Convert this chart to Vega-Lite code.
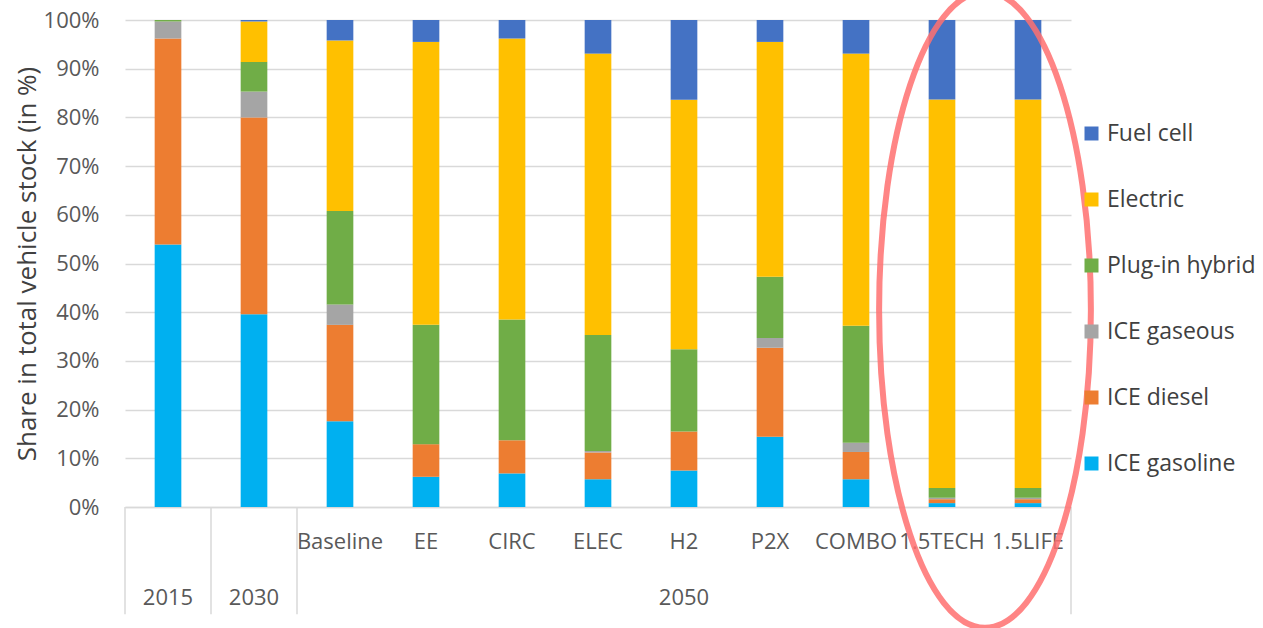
{
  "$schema": "https://vega.github.io/schema/vega-lite/v6.json",
  "width": 946,
  "height": 487,
  "autosize": {"type": "none"},
  "padding": {"left": 125, "top": 20, "right": 192, "bottom": 121},
  "background": "white",
  "config": {
    "view": {"stroke": null},
    "font": "Open Sans",
    "axis": {"labelFont": "Open Sans", "titleFont": "Open Sans", "labelColor": "#595959", "titleColor": "#404040"},
    "legend": {"labelFont": "Open Sans"}
  },
  "datasets": {
    "stock": [
      {"cat": "2015", "type": "ICE gasoline", "k": 1, "v": 53.9},
      {"cat": "2015", "type": "ICE diesel", "k": 2, "v": 42.3},
      {"cat": "2015", "type": "ICE gaseous", "k": 3, "v": 3.5},
      {"cat": "2015", "type": "Plug-in hybrid", "k": 4, "v": 0.3},
      {"cat": "2015", "type": "Electric", "k": 5, "v": 0},
      {"cat": "2015", "type": "Fuel cell", "k": 6, "v": 0},
      {"cat": "2030", "type": "ICE gasoline", "k": 1, "v": 39.6},
      {"cat": "2030", "type": "ICE diesel", "k": 2, "v": 40.4},
      {"cat": "2030", "type": "ICE gaseous", "k": 3, "v": 5.3},
      {"cat": "2030", "type": "Plug-in hybrid", "k": 4, "v": 6.1},
      {"cat": "2030", "type": "Electric", "k": 5, "v": 8.3},
      {"cat": "2030", "type": "Fuel cell", "k": 6, "v": 0.3},
      {"cat": "Baseline", "type": "ICE gasoline", "k": 1, "v": 17.6},
      {"cat": "Baseline", "type": "ICE diesel", "k": 2, "v": 19.8},
      {"cat": "Baseline", "type": "ICE gaseous", "k": 3, "v": 4.2},
      {"cat": "Baseline", "type": "Plug-in hybrid", "k": 4, "v": 19.2},
      {"cat": "Baseline", "type": "Electric", "k": 5, "v": 35.0},
      {"cat": "Baseline", "type": "Fuel cell", "k": 6, "v": 4.2},
      {"cat": "EE", "type": "ICE gasoline", "k": 1, "v": 6.2},
      {"cat": "EE", "type": "ICE diesel", "k": 2, "v": 6.7},
      {"cat": "EE", "type": "ICE gaseous", "k": 3, "v": 0},
      {"cat": "EE", "type": "Plug-in hybrid", "k": 4, "v": 24.5},
      {"cat": "EE", "type": "Electric", "k": 5, "v": 58.1},
      {"cat": "EE", "type": "Fuel cell", "k": 6, "v": 4.5},
      {"cat": "CIRC", "type": "ICE gasoline", "k": 1, "v": 6.9},
      {"cat": "CIRC", "type": "ICE diesel", "k": 2, "v": 6.8},
      {"cat": "CIRC", "type": "ICE gaseous", "k": 3, "v": 0},
      {"cat": "CIRC", "type": "Plug-in hybrid", "k": 4, "v": 24.8},
      {"cat": "CIRC", "type": "Electric", "k": 5, "v": 57.7},
      {"cat": "CIRC", "type": "Fuel cell", "k": 6, "v": 3.8},
      {"cat": "ELEC", "type": "ICE gasoline", "k": 1, "v": 5.7},
      {"cat": "ELEC", "type": "ICE diesel", "k": 2, "v": 5.5},
      {"cat": "ELEC", "type": "ICE gaseous", "k": 3, "v": 0.3},
      {"cat": "ELEC", "type": "Plug-in hybrid", "k": 4, "v": 23.8},
      {"cat": "ELEC", "type": "Electric", "k": 5, "v": 57.8},
      {"cat": "ELEC", "type": "Fuel cell", "k": 6, "v": 6.9},
      {"cat": "H2", "type": "ICE gasoline", "k": 1, "v": 7.5},
      {"cat": "H2", "type": "ICE diesel", "k": 2, "v": 8.0},
      {"cat": "H2", "type": "ICE gaseous", "k": 3, "v": 0},
      {"cat": "H2", "type": "Plug-in hybrid", "k": 4, "v": 16.9},
      {"cat": "H2", "type": "Electric", "k": 5, "v": 51.2},
      {"cat": "H2", "type": "Fuel cell", "k": 6, "v": 16.4},
      {"cat": "P2X", "type": "ICE gasoline", "k": 1, "v": 14.4},
      {"cat": "P2X", "type": "ICE diesel", "k": 2, "v": 18.3},
      {"cat": "P2X", "type": "ICE gaseous", "k": 3, "v": 2.0},
      {"cat": "P2X", "type": "Plug-in hybrid", "k": 4, "v": 12.6},
      {"cat": "P2X", "type": "Electric", "k": 5, "v": 48.2},
      {"cat": "P2X", "type": "Fuel cell", "k": 6, "v": 4.5},
      {"cat": "COMBO", "type": "ICE gasoline", "k": 1, "v": 5.7},
      {"cat": "COMBO", "type": "ICE diesel", "k": 2, "v": 5.6},
      {"cat": "COMBO", "type": "ICE gaseous", "k": 3, "v": 1.9},
      {"cat": "COMBO", "type": "Plug-in hybrid", "k": 4, "v": 24.0},
      {"cat": "COMBO", "type": "Electric", "k": 5, "v": 55.9},
      {"cat": "COMBO", "type": "Fuel cell", "k": 6, "v": 6.9},
      {"cat": "1.5TECH", "type": "ICE gasoline", "k": 1, "v": 0.8},
      {"cat": "1.5TECH", "type": "ICE diesel", "k": 2, "v": 0.8},
      {"cat": "1.5TECH", "type": "ICE gaseous", "k": 3, "v": 0.3},
      {"cat": "1.5TECH", "type": "Plug-in hybrid", "k": 4, "v": 2.0},
      {"cat": "1.5TECH", "type": "Electric", "k": 5, "v": 79.8},
      {"cat": "1.5TECH", "type": "Fuel cell", "k": 6, "v": 16.3},
      {"cat": "1.5LIFE", "type": "ICE gasoline", "k": 1, "v": 0.8},
      {"cat": "1.5LIFE", "type": "ICE diesel", "k": 2, "v": 0.8},
      {"cat": "1.5LIFE", "type": "ICE gaseous", "k": 3, "v": 0.3},
      {"cat": "1.5LIFE", "type": "Plug-in hybrid", "k": 4, "v": 2.0},
      {"cat": "1.5LIFE", "type": "Electric", "k": 5, "v": 79.8},
      {"cat": "1.5LIFE", "type": "Fuel cell", "k": 6, "v": 16.3}
    ],
    "years": [
      {"cat": "2015", "label": "2015"},
      {"cat": "2030", "label": "2030"},
      {"cat": "H2", "label": "2050"}
    ],
    "groupStarts": [
      {"cat": "2015"},
      {"cat": "2030"},
      {"cat": "Baseline"}
    ],
    "groupEnds": [
      {"cat": "1.5LIFE"}
    ],
    "highlight": [
      {"cat": "1.5TECH", "share": 0.405}
    ]
  },
  "encoding": {
    "x": {
      "field": "cat",
      "type": "nominal",
      "sort": ["2015", "2030", "Baseline", "EE", "CIRC", "ELEC", "H2", "P2X", "COMBO", "1.5TECH", "1.5LIFE"],
      "scale": {"paddingInner": 0, "paddingOuter": 0},
      "axis": {
        "title": null,
        "labelAngle": 0,
        "labelFontSize": 22,
        "labelPadding": 24,
        "labelOverlap": false,
        "ticks": false,
        "domainColor": "#D9D9D9",
        "domainWidth": 1.5,
        "labelExpr": "datum.value == '2015' || datum.value == '2030' ? '' : datum.value"
      }
    }
  },
  "layer": [
    {
      "data": {"name": "stock"},
      "mark": {"type": "bar", "width": {"band": 0.31}},
      "encoding": {
        "y": {
          "field": "v",
          "type": "quantitative",
          "stack": "normalize",
          "scale": {"domain": [0, 1]},
          "axis": {
            "title": "Share in total vehicle stock (in %)",
            "titleFontSize": 26,
            "titleFontWeight": "normal",
            "titlePadding": 3,
            "format": ".0%",
            "labelFontSize": 22,
            "labelPadding": 26,
            "tickCount": 10,
            "ticks": false,
            "domain": false,
            "gridColor": "#D9D9D9",
            "gridWidth": 1.5
          }
        },
        "color": {
          "field": "type",
          "type": "nominal",
          "scale": {
            "domain": ["Fuel cell", "Electric", "Plug-in hybrid", "ICE gaseous", "ICE diesel", "ICE gasoline"],
            "range": ["#4472C4", "#FFC000", "#70AD47", "#A5A5A5", "#ED7D31", "#00B0F0"]
          },
          "legend": {
            "title": null,
            "orient": "none",
            "legendX": 955,
            "legendY": 102,
            "symbolType": "square",
            "symbolSize": 196,
            "symbolStrokeWidth": 0,
            "labelFontSize": 23,
            "labelColor": "#404040",
            "labelOffset": 4,
            "rowPadding": 42
          }
        },
        "order": {"field": "k", "type": "quantitative"}
      }
    },
    {
      "data": {"name": "groupStarts"},
      "mark": {"type": "rule", "color": "#D9D9D9", "strokeWidth": 1.5},
      "encoding": {
        "x": {"field": "cat", "type": "nominal", "bandPosition": 0},
        "y": {"datum": 0},
        "y2": {"datum": -0.22}
      }
    },
    {
      "data": {"name": "groupEnds"},
      "mark": {"type": "rule", "color": "#D9D9D9", "strokeWidth": 1.5},
      "encoding": {
        "x": {"field": "cat", "type": "nominal", "bandPosition": 1},
        "y": {"datum": 0},
        "y2": {"datum": -0.22}
      }
    },
    {
      "data": {"name": "years"},
      "mark": {"type": "text", "fontSize": 22, "color": "#595959", "baseline": "middle", "align": "center"},
      "encoding": {
        "y": {"datum": -0.187},
        "text": {"field": "label"}
      }
    },
    {
      "data": {"name": "highlight"},
      "mark": {
        "type": "point",
        "shape": "M-0.333,0A0.333,1,0,1,0,0.333,0A0.333,1,0,1,0,-0.333,0Z",
        "size": 404496,
        "filled": false,
        "stroke": "#FF7070",
        "strokeOpacity": 0.85,
        "strokeWidth": 6,
        "opacity": 1
      },
      "encoding": {
        "x": {"field": "cat", "type": "nominal", "bandPosition": 1},
        "y": {"field": "share", "type": "quantitative"}
      }
    }
  ]
}
